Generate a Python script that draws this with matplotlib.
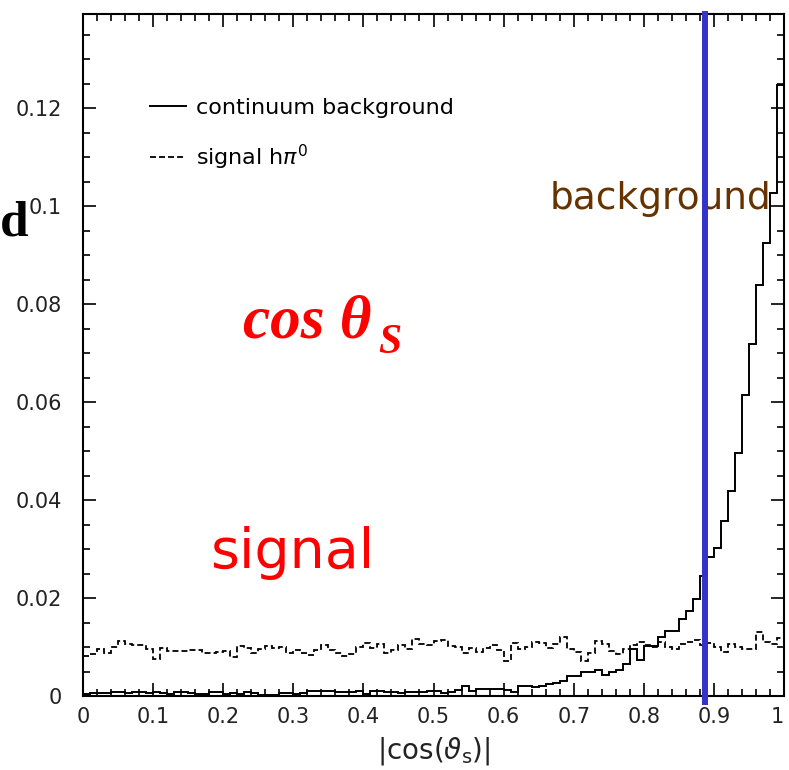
import numpy as np
import matplotlib
matplotlib.use("Agg")
import matplotlib.pyplot as plt
from matplotlib.ticker import MultipleLocator, FuncFormatter

# histogram of |cos(theta_s)|, 100 bins from 0 to 1
bin_edges = np.linspace(0, 1, 101)

# continuum background (solid)
background = [
    0.0004, 0.0007, 0.0007, 0.0006, 0.0008, 0.0008, 0.0006, 0.0008, 0.0008, 0.0006,
    0.0009, 0.0007, 0.0005, 0.0008, 0.0008, 0.0006, 0.0004, 0.0004, 0.0008, 0.0009,
    0.0004, 0.0007, 0.0005, 0.0008, 0.0006, 0.0003, 0.0003, 0.0003, 0.0007, 0.0006,
    0.0005, 0.0007, 0.0010, 0.0010, 0.0011, 0.0011, 0.0008, 0.0008, 0.0009, 0.0010,
    0.0005, 0.0011, 0.0011, 0.0009, 0.0008, 0.0006, 0.0009, 0.0009, 0.0009, 0.0011,
    0.0010, 0.0007, 0.0009, 0.0013, 0.0020, 0.0010, 0.0015, 0.0015, 0.0015, 0.0015,
    0.0013, 0.0009, 0.0021, 0.0021, 0.0019, 0.0021, 0.0025, 0.0026, 0.0031, 0.0041,
    0.0041, 0.0048, 0.0048, 0.0053, 0.0043, 0.0048, 0.0054, 0.0065, 0.0095, 0.0073,
    0.0102, 0.0102, 0.0121, 0.0133, 0.0133, 0.0157, 0.0174, 0.0198, 0.0244, 0.0283,
    0.0302, 0.0357, 0.0418, 0.0496, 0.0614, 0.0719, 0.0838, 0.0924, 0.1027, 0.1248,
]

# signal h pi0 (dashed)
signal = [
    0.0082, 0.0085, 0.0095, 0.0087, 0.0099, 0.0112, 0.0107, 0.0104, 0.0104, 0.0095,
    0.0076, 0.0097, 0.0092, 0.0092, 0.0091, 0.0093, 0.0094, 0.0087, 0.0087, 0.0089,
    0.0092, 0.0079, 0.0103, 0.0097, 0.0087, 0.0096, 0.0102, 0.0097, 0.0100, 0.0087,
    0.0094, 0.0088, 0.0084, 0.0094, 0.0104, 0.0094, 0.0087, 0.0082, 0.0086, 0.0101,
    0.0109, 0.0098, 0.0107, 0.0087, 0.0093, 0.0104, 0.0096, 0.0116, 0.0106, 0.0104,
    0.0113, 0.0114, 0.0102, 0.0101, 0.0087, 0.0097, 0.0090, 0.0097, 0.0104, 0.0093,
    0.0072, 0.0109, 0.0095, 0.0101, 0.0111, 0.0108, 0.0097, 0.0107, 0.0121, 0.0095,
    0.0090, 0.0072, 0.0087, 0.0113, 0.0106, 0.0092, 0.0085, 0.0095, 0.0104, 0.0111,
    0.0104, 0.0099, 0.0111, 0.0101, 0.0095, 0.0106, 0.0111, 0.0114, 0.0104, 0.0109,
    0.0101, 0.0090, 0.0107, 0.0099, 0.0095, 0.0095, 0.0131, 0.0111, 0.0107, 0.0118,
]

labels = ["continuum background", r"signal h$\pi^0$"]
cut_value = 0.887

fig = plt.figure(figsize=(7.89, 7.70), dpi=100)
ax = fig.add_axes([0.1052, 0.0961, 0.8885, 0.8857])

ax.stairs(background, bin_edges, color="black", lw=1.4, label=labels[0])
ax.stairs(signal, bin_edges, baseline=None, color="black", lw=1.3,
          linestyle=(0, (3.3, 1.7)), label=labels[1])

# cut line
ax.axvline(cut_value, ymin=-0.009, ymax=1, color="#3333cc", lw=4.3, clip_on=False, zorder=5)

ax.set_xlim(0, 1)
ax.set_ylim(0, 0.1392)
ax.xaxis.set_major_locator(MultipleLocator(0.1))
ax.xaxis.set_minor_locator(MultipleLocator(0.02))
ax.yaxis.set_major_locator(MultipleLocator(0.02))
ax.yaxis.set_minor_locator(MultipleLocator(0.005))
fmt = FuncFormatter(lambda v, p: "{:g}".format(round(v, 3)))
ax.xaxis.set_major_formatter(fmt)
ax.yaxis.set_major_formatter(fmt)

ax.tick_params(which="both", direction="in", top=True, right=True, width=1.2, colors="black")
ax.tick_params(which="major", length=9.5, labelsize=15, labelcolor="#222222")
ax.tick_params(which="minor", length=5)
ax.tick_params(axis="x", which="major", pad=8)
ax.tick_params(axis="y", which="major", pad=15)
for s in ax.spines.values():
    s.set_linewidth(1.5)

ax.set_xlabel(r"|cos($\vartheta_{\rm s}$)|", fontsize=20, color="#222222", labelpad=6)

ax.legend(loc="upper left", bbox_to_anchor=(0.096, 0.877), frameon=False, fontsize=16,
          handlelength=1.6, handletextpad=0.45, labelspacing=1.1, borderpad=0, borderaxespad=0)

# annotations
ax.text(0.666, 0.0994, "background", color="#663300", fontsize=27, ha="left", va="baseline")
ax.text(0.183, 0.0262, "signal", color="red", fontsize=40, ha="left", va="baseline")
ax.text(0.228, 0.0731, "cos θ", color="red", fontsize=44, family="Liberation Serif",
        weight="bold", style="italic", ha="left", va="baseline")
ax.text(0.421, 0.0700, "S", color="red", fontsize=30, family="Liberation Serif",
        weight="bold", style="italic", ha="left", va="baseline")
fig.text(0.0, 0.6948, "d", color="black", fontsize=37, family="Liberation Serif",
         weight="bold", ha="left", va="baseline")

# keep the "1" at the right end inside the picture
fig.canvas.draw()
for t in ax.get_xticklabels():
    if t.get_text() == "1":
        t.set_horizontalalignment("right")

fig.savefig("out.png", dpi=100)
